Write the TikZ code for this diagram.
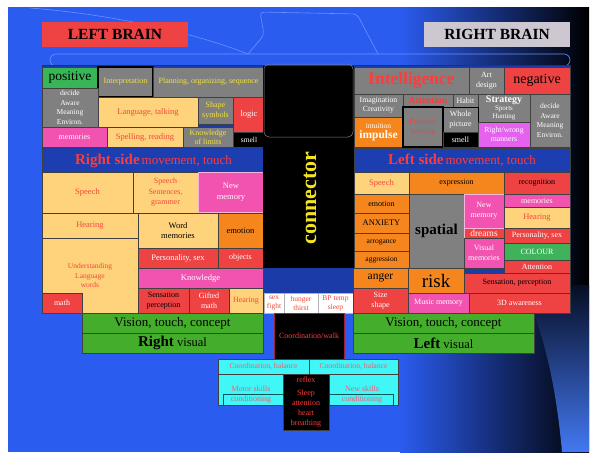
\documentclass[tikz,border=0pt]{standalone}
\usepackage{fontspec}
\setmainfont{Liberation Serif}
\definecolor{cbg}{HTML}{2B5CF0}
\definecolor{cswoosh}{HTML}{4378F2}
\definecolor{cdeco}{HTML}{6C90FF}
\definecolor{cgap}{HTML}{1A3BA8}
\definecolor{cband}{HTML}{1C3EB0}
\definecolor{cgray}{HTML}{808080}
\definecolor{clor}{HTML}{FFD27C}
\definecolor{corg}{HTML}{F5861E}
\definecolor{cred}{HTML}{EF4242}
\definecolor{cpink}{HTML}{F252B0}
\definecolor{cpinkl}{HTML}{F6B6DA}
\definecolor{cmag}{HTML}{E462EE}
\definecolor{cgrn}{HTML}{44AE2C}
\definecolor{cgrnp}{HTML}{38B556}
\definecolor{ccol}{HTML}{40B25C}
\definecolor{ccyan}{HTML}{40F6F6}
\definecolor{ctxr}{HTML}{F04A3C}
\definecolor{ctxrb}{HTML}{FF3B3B}
\definecolor{ctxy}{HTML}{F2E33A}
\definecolor{ctxc}{HTML}{EE5E78}
\definecolor{cyel}{HTML}{F2E324}
\definecolor{cdred}{HTML}{A02040}
\definecolor{ctitle}{HTML}{CCC7D0}
\tikzset{
  box/.style={draw=black!75,line width=0.6pt,inner sep=0pt,align=center,font=\fontsize{8}{9.5}\selectfont},
  Gy/.style={fill=cgray}, Lo/.style={fill=clor}, Or/.style={fill=corg}, Rd/.style={fill=cred},
  Pk/.style={fill=cpink}, Mg/.style={fill=cmag}, Gn/.style={fill=cgrn}, Cy/.style={fill=ccyan},
  Bk/.style={fill=black}, Wh/.style={fill=white}, Bd/.style={fill=cband},
  tw/.style={text=white}, ty/.style={text=ctxy}, tr/.style={text=ctxr}, trb/.style={text=ctxrb}, tb/.style={text=black}, tc/.style={text=ctxc},
  sm/.style={font=\fontsize{7.5}{9.6}\selectfont},
  fs/.style={font=\fontsize{#1}{#1}\selectfont},
  deco/.style={draw=cdeco,line width=0.6pt},
  inner/.style={draw=teal!70!black,line width=0.5pt},
}
\newcommand\bx[7]{\node[box,#6,minimum width={(#4-#2)*1pt},minimum height={(#5-#3)*1pt}] (#1) at ({(#2+#4)/2},{(#3+#5)/2}) {#7};}
\begin{document}
\begin{tikzpicture}[x=1pt,y=-1pt]
\useasboundingbox (0,0) rectangle (598,456);
\fill[white] (0,0) rectangle (598,456);
\fill[cbg] (8,7) rectangle (589,452);
\shade[left color=cbg,right color=black] (400,7) rectangle (589,452);
\shade[top color=black!85!cbg,bottom color=cswoosh] (522,285) .. controls (546,335) and (557,395) .. (562,452) -- (589,452) -- (589,285) -- cycle;
% decorative outlines
\draw[deco] (30,8) .. controls (120,15) and (200,35) .. (248,54);
\draw[deco,rounded corners=4pt] (248,54) -- (264,35) -- (260,12) -- (357,14) -- (378,54);
\draw[deco,rounded corners=6pt] (50,54) rectangle (570,66);
% titles
\bx{lb}{42}{22}{188}{47}{Rd,draw=none,tb,font=\fontsize{15.5}{16}\selectfont\bfseries}{LEFT BRAIN}
\bx{rb}{424}{22}{570}{47}{fill=ctitle,draw=none,tb,font=\fontsize{15.5}{16}\selectfont\bfseries}{RIGHT BRAIN}
% grid background
\filldraw[fill=cgap,draw=black!80] (42,65) rectangle (570,313);
% left block
\bx{positive}{42}{67}{98}{88}{fill=cgrnp,tb,fs=13.5}{positive}
\bx{interp}{98}{67}{153}{97}{Gy,ty,draw=black,line width=1.4pt}{Interpretation}
\bx{planning}{153}{67}{264}{97}{Gy,ty}{Planning, organizing, sequence}
\bx{decideL}{42}{88}{98}{127}{Gy,tw,sm}{decide\\Aware\\Meaning\\Environ.}
\bx{language}{98}{97}{198}{127}{Lo,tr,fs=8.5}{Language, talking}
\bx{shape}{198}{97}{233}{124}{Gy,ty}{Shape\\symbols}
\bx{logic}{233}{97}{265}{132}{Rd,tw,fs=8.5}{logic}
\bx{memL}{42}{127}{107}{147}{Pk,tw}{memories}
\bx{spelling}{107}{127}{183}{147}{Lo,tr,fs=8.5}{Spelling, reading}
\bx{limits}{183}{127}{233}{147}{Gy,ty,font=\fontsize{8}{9}\selectfont}{Knowledge\\of limits}
\bx{smellL}{233}{132}{265}{147}{Bk,tw,fs=7.5}{smell}
\bx{bandL}{42}{149}{265}{172}{Bd,trb}{{\fontsize{15}{16}\selectfont\bfseries Right side} {\fontsize{13}{14}\selectfont movement, touch}}
\bx{speechL}{42}{172}{133}{213}{Lo,tr,fs=8.5}{Speech}
\bx{sentences}{133}{172}{198}{213}{Lo,tr,font=\fontsize{8}{10.5}\selectfont}{Speech\\Sentences,\\grammer}
\bx{newmemL}{198}{172}{264}{212}{Pk,tw,draw=cpinkl,line width=1pt,font=\fontsize{8.5}{10.5}\selectfont}{New\\memory}
\bx{hearingL}{42}{213}{138}{238}{Lo,tr,fs=8.5}{Hearing}
\bx{wordmem}{138}{213}{218}{248}{Lo,tb,font=\fontsize{8.5}{10}\selectfont}{Word\\memories}
\bx{emotionL}{218}{213}{263}{248}{Or,tb,fs=8.5}{emotion}
\bx{underst}{42}{238}{138}{313}{Lo,tr,font=\fontsize{7.5}{9.5}\selectfont}{Understanding\\Language\\words}
\bx{math}{42}{293}{82}{313}{Rd,tw}{math}
\bx{persL}{138}{248}{218}{268}{Rd,tw,fs=8.5}{Personality, sex}
\bx{objects}{218}{248}{263}{268}{Rd,tw}{objects}
\bx{knowledge}{138}{268}{263}{288}{Pk,tw,fs=8.5}{Knowledge}
\bx{sensL}{138}{288}{189}{313}{Rd,tb}{Sensation\\perception}
\bx{gifted}{189}{288}{229}{313}{Rd,tw}{Gifted\\math}
\bx{hearingL2}{229}{288}{263}{313}{Lo,tr}{Hearing}
\bx{sex}{264}{293}{284}{313}{Wh,tr,draw=black!30,font=\fontsize{7.5}{9}\selectfont}{sex\\fight}
\bx{hunger}{284}{293}{318}{313}{Wh,tr,draw=black!30,font=\fontsize{7.5}{9}\selectfont}{hunger\\thirst}
\bx{bp}{318}{293}{353}{313}{Wh,tr,draw=black!30,font=\fontsize{7.5}{9}\selectfont}{BP temp\\sleep}
% connector
\bx{connbox}{263}{66}{354}{268}{Bk,draw=none}{}
\draw[draw=black!50!white,line width=0.5pt,rounded corners=5pt] (264,64) rectangle (353,137);
\node[rotate=90,text=cyel,font=\fontsize{22}{22}\selectfont\bfseries] (conn) at (310,198) {connector};
% right block
\bx{intel}{354}{67}{469}{94}{Gy,trb,font=\fontsize{17.5}{18}\selectfont\bfseries}{Intelligence}
\bx{art}{469}{67}{504}{94}{Gy,tw}{Art\\design}
\bx{negative}{504}{67}{570}{94}{Rd,tb,fs=14}{negative}
\bx{imag}{354}{94}{403}{117}{Gy,tw,font=\fontsize{7.8}{9}\selectfont}{Imagination\\Creativity}
\bx{attn}{403}{94}{453}{107}{Gy,trb,font=\fontsize{9.5}{10}\selectfont\bfseries}{Attention}
\bx{habit}{453}{94}{478}{107}{Gy,tw}{Habit}
\bx{strategy}{478}{94}{530}{122}{Gy,tw,font=\fontsize{7}{7.6}\selectfont}{\textbf{\fontsize{10}{10}\selectfont Strategy}\\Sports\\Hunting}
\bx{decideR}{530}{94}{570}{147}{Gy,tw,sm}{decide\\Aware\\Meaning\\Environ.}
\bx{intuition}{354}{117}{403}{147}{Or,tw,font=\fontsize{7.5}{10}\selectfont}{intuition\\\textbf{\fontsize{11.5}{12}\selectfont impulse}}
\bx{problem}{403}{107}{443}{147}{Gy,trb,draw=black,line width=1.4pt}{Problem\\solving}
\bx{whole}{443}{107}{478}{132}{Gy,tw,draw=black,line width=1pt}{Whole\\picture}
\bx{smellR}{443}{132}{478}{147}{Bk,tw}{smell}
\bx{rightwrong}{478}{122}{530}{147}{Mg,tw,font=\fontsize{7.8}{9.2}\selectfont}{Right/wrong\\manners}
\bx{bandR}{354}{148}{570}{172}{Bd,trb}{{\fontsize{15}{16}\selectfont\bfseries Left side} {\fontsize{13}{14}\selectfont movement, touch}}
\bx{speechR}{354}{172}{409}{194}{Lo,tr,fs=8.5}{Speech}
\bx{expression}{409}{172}{504}{194}{Or,tb}{expression}
\bx{recog}{504}{172}{570}{194}{Rd,tb}{recognition}
\bx{emotionR}{354}{194}{409}{213}{Or,tb}{emotion}
\bx{spatial}{409}{194}{464}{268}{Gy,tb,font=\fontsize{15}{16}\selectfont\bfseries}{spatial}
\bx{newmemR}{464}{194}{504}{228}{Pk,tw,draw=cpinkl,font=\fontsize{8}{10}\selectfont}{New\\memory}
\bx{memR}{504}{194}{570}{207}{Pk,tw}{memories}
\bx{hearingR}{504}{207}{570}{228}{Lo,tr,fs=8.5}{Hearing}
\bx{anxiety}{354}{213}{409}{233}{Or,tb,fs=8.5}{ANXIETY}
\bx{dreams}{464}{228}{504}{238}{Rd,tw,draw=cpinkl,fs=9.5}{dreams}
\bx{persR}{504}{228}{570}{243}{Rd,tw}{Personality, sex}
\bx{arrog}{354}{233}{409}{251}{Or,tb,fs=7.5}{arrogance}
\bx{aggr}{354}{251}{409}{268}{Or,tb,fs=7.5}{aggression}
\bx{visualmem}{464}{238}{504}{268}{Pk,tw}{Visual\\memories}
\bx{colour}{504}{243}{570}{260}{fill=ccol,tw}{COLOUR}
\bx{attnR}{504}{260}{570}{273}{Rd,tw}{Attention}
\bx{anger}{353}{268}{408}{288}{Or,tb,fs=11.5}{anger}
\bx{risk}{408}{268}{464}{293}{Or,tb,fs=19}{risk}
\bx{sensR}{464}{273}{570}{293}{Rd,tb}{Sensation, perception}
\bx{size}{353}{288}{408}{313}{Rd,tw}{Size\\shape}
\bx{music}{408}{293}{469}{313}{Pk,tw}{Music memory}
\bx{threeD}{469}{293}{570}{313}{Rd,tw}{3D awareness}
% green rows
\bx{visionL}{82}{313}{263}{333}{Gn,tb,fs=13}{Vision, touch, concept}
\bx{rightvis}{82}{333}{263}{353}{Gn,tb,fs=12.5}{\textbf{\fontsize{15}{15}\selectfont Right} visual}
\bx{visionR}{353}{313}{534}{333}{Gn,tb,fs=13}{Vision, touch, concept}
\bx{leftvis}{353}{333}{534}{353}{Gn,tb,fs=12.5}{\textbf{\fontsize{15}{15}\selectfont Left} visual}
% bottom
\bx{coordwalk}{274}{313}{344}{359}{Bk,trb,draw=cdred}{Coordination/walk}
\bx{cbalL}{218}{359}{309}{374}{Cy,tc,fs=7.7}{Coordination, balance}
\bx{cbalR}{309}{359}{398}{374}{Cy,tc,fs=7.7}{Coordination, balance}
\bx{motor}{218}{374}{283}{405}{Cy}{}
\bx{newskill}{328}{374}{398}{405}{Cy}{}
\draw[inner] (223,394) rectangle (283,405);
\draw[inner] (328,394) rectangle (393,405);
\node[tc,align=center,inner sep=0pt,font=\fontsize{8}{10}\selectfont] (motortxt) at (251,395) {Motor skills\\conditioning};
\node[tc,align=center,inner sep=0pt,font=\fontsize{8}{10}\selectfont] (newtxt) at (362,395) {New skills\\conditioning};
\bx{reflex}{283}{374}{329}{430}{Bk,trb,font=\fontsize{8}{10}\selectfont}{reflex\\[3pt]Sleep\\attention\\heart\\breathing}
\end{tikzpicture}
\end{document}
